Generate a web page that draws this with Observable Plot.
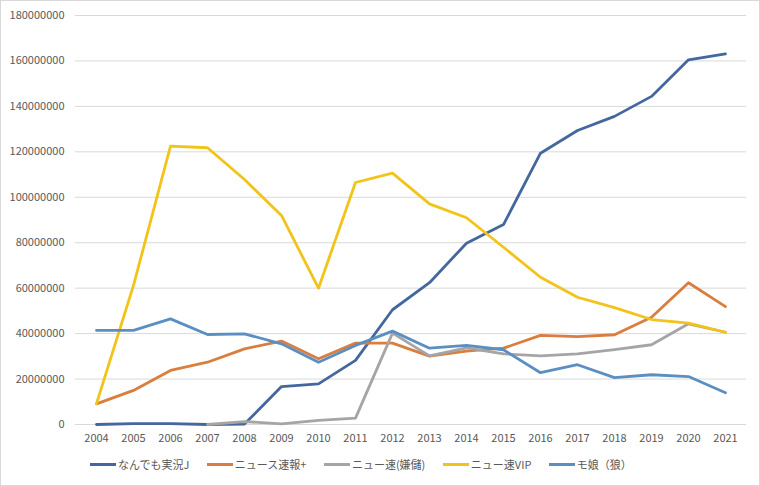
<!DOCTYPE html>
<html><head><meta charset="utf-8">
<script src="https://cdn.jsdelivr.net/npm/d3@7"></script>
<script src="https://cdn.jsdelivr.net/npm/@observablehq/plot@0.6"></script>
<style>
body{margin:0;background:#fff;}
#wrap{width:758px;height:484px;border:1px solid #d9d9d9;position:relative;overflow:hidden;font-family:"Noto Sans CJK JP","Noto Sans",sans-serif;}
#legend{display:flex;justify-content:flex-start;padding-left:89px;gap:17.5px;font-size:11px;color:#595959;margin-top:6px;}
#legend .it{display:flex;align-items:center;}
#legend .sw{width:26px;height:3px;margin-right:2px;}
</style></head><body>
<div id="wrap"><div id="chart"></div><div id="legend"></div></div>
<script>
const years = [2004,2005,2006,2007,2008,2009,2010,2011,2012,2013,2014,2015,2016,2017,2018,2019,2020,2021];
const seriesNames = ["なんでも実況J","ニュース速報+","ニュー速(嫌儲)","ニュー速VIP","モ娘（狼）"];
const colors = ["#44679e","#d97e3e","#a5a5a5","#f2c318","#5b8fc2"];
const nanjVals  = [0, 400000, 400000, 0, 200000, 16700000, 17900000, 28200000, 50500000, 62400000, 79800000, 88000000, 119400000, 129400000, 135600000, 144400000, 160500000, 163100000];
const newsVals  = [9100000, 15000000, 23800000, 27400000, 33300000, 36700000, 28900000, 35800000, 35800000, 30100000, 32300000, 33600000, 39200000, 38700000, 39500000, 47200000, 62400000, 51900000];
const kenmoVals = [null, null, null, 0, 1300000, 300000, 1800000, 2800000, 40200000, 30200000, 33700000, 31100000, 30200000, 31100000, 33000000, 35100000, 44300000, 40600000];
const vipVals   = [9200000, 61200000, 122500000, 121800000, 107800000, 92000000, 60000000, 106500000, 110600000, 97100000, 91000000, 78000000, 64800000, 56000000, 51400000, 46200000, 44600000, 40600000];
const momusuVals= [41400000, 41400000, 46500000, 39600000, 39900000, 35500000, 27400000, 34800000, 41100000, 33600000, 34800000, 32900000, 22800000, 26300000, 20600000, 21900000, 21100000, 14000000];
const yTicks = [0,20000000,40000000,60000000,80000000,100000000,120000000,140000000,160000000,180000000];

const allVals = [nanjVals, newsVals, kenmoVals, vipVals, momusuVals];
const data = [];
allVals.forEach((vals, si) => vals.forEach((v, i) => data.push({series: seriesNames[si], year: String(years[i]), value: v})));

const chart = Plot.plot({
  width: 758, height: 449,
  marginTop: 14, marginLeft: 74, marginRight: 13, marginBottom: 26,
  style: {fontFamily: '"Noto Sans CJK JP","Noto Sans",sans-serif', fontSize: "11px", color: "#595959", background: "#fff"},
  x: {type: "point", domain: years.map(String), padding: 0.5, label: null, tickSize: 0, tickPadding: 10},
  y: {domain: [0, 180000000], ticks: yTicks, tickFormat: d => String(d), label: null, tickSize: 0, tickPadding: 11},
  color: {domain: seriesNames, range: colors},
  marks: [
    Plot.ruleY(yTicks, {stroke: "#d9d9d9", strokeWidth: 1}),
    Plot.line(data, {x: "year", y: "value", z: "series", stroke: "series", strokeWidth: 2.8, strokeLinejoin: "round", strokeLinecap: "round", defined: d => d.value != null})
  ]
});
document.getElementById("chart").appendChild(chart);

const lg = document.getElementById("legend");
seriesNames.forEach((n, i) => {
  const it = document.createElement("div"); it.className = "it";
  const sw = document.createElement("div"); sw.className = "sw"; sw.style.background = colors[i];
  const t = document.createElement("span"); t.textContent = n;
  it.appendChild(sw); it.appendChild(t); lg.appendChild(it);
});
</script></body></html>
